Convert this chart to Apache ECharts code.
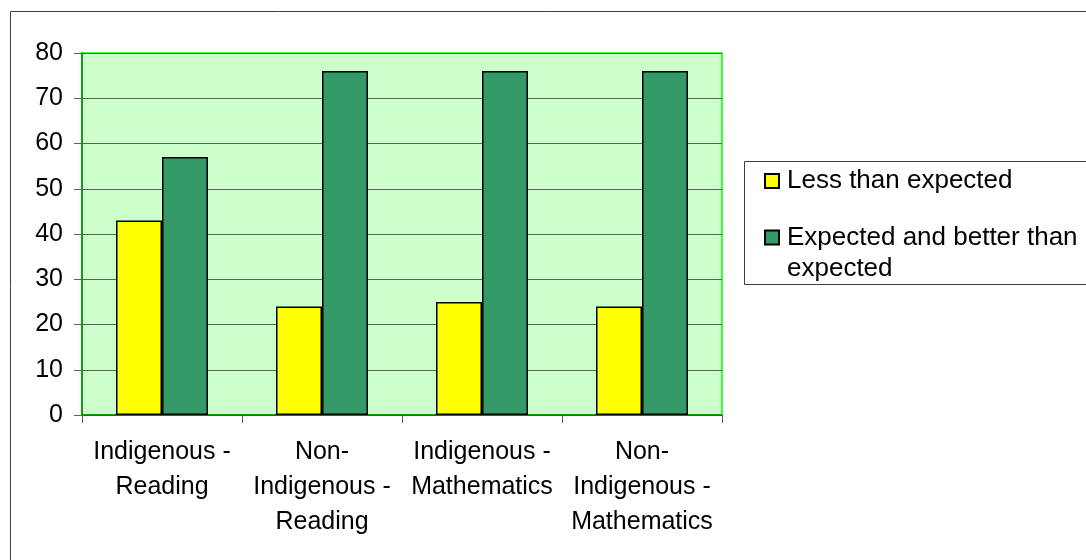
<!DOCTYPE html>
<html>
<head>
<meta charset="utf-8">
<script src="https://cdn.jsdelivr.net/npm/echarts@6/dist/echarts.min.js"></script>
<style>
html,body{margin:0;padding:0;background:#fff;}
#chart{width:1086px;height:560px;}
</style>
</head>
<body>
<div id="chart"></div>
<script>
const categories = ["Indigenous -\nReading", "Non-\nIndigenous -\nReading", "Indigenous -\nMathematics", "Non-\nIndigenous -\nMathematics"];
const lessThanExpected = [43, 24, 25, 24];
const expectedOrBetter = [57, 76, 76, 76];
const seriesNames = ["Less than expected", "Expected and better than expected"];
const yTicks = {min: 0, max: 80, interval: 10};

const FONT = '"Liberation Sans", Arial, sans-serif';
const legendText = {fontFamily: FONT, fontSize: 26, color: '#000', lineHeight: 31, padding: [0, 0, 0, 3]};
const chart = echarts.init(document.getElementById('chart'), null, {renderer: 'canvas'});
chart.setOption({
  animation: false,
  backgroundColor: '#ffffff',
  textStyle: {fontFamily: FONT},
  graphic: [
    {type: 'rect', shape: {x: 10.5, y: 11.5, width: 1100, height: 600}, style: {fill: 'none', stroke: '#404040', lineWidth: 1}, z: -10},
    {type: 'rect', shape: {x: 744.5, y: 161.5, width: 360, height: 123}, style: {fill: '#fff', stroke: '#404040', lineWidth: 1}, z: -5}
  ],
  grid: {left: 82, top: 53, right: 364, bottom: 145, show: true, backgroundColor: '#CCFFCC', borderColor: '#00FF00', borderWidth: 1.5},
  legend: [
    {
      orient: 'vertical', left: 759, top: 160.5, itemWidth: 14, itemHeight: 14, itemGap: 5,
      icon: 'rect', textStyle: legendText, data: [seriesNames[0]]
    },
    {
      orient: 'vertical', left: 759, top: 186, itemWidth: 14, itemHeight: 14, itemGap: 5,
      icon: 'rect', textStyle: legendText, data: [seriesNames[1]],
      formatter: function () { return ' \nExpected and better than\nexpected'; }
    }
  ],
  xAxis: {
    type: 'category', data: categories,
    axisLine: {lineStyle: {color: '#008000', width: 1.5}},
    axisTick: {show: true, length: 8, lineStyle: {color: '#606060'}},
    axisLabel: {fontFamily: FONT, fontSize: 25, color: '#000', lineHeight: 35, margin: 20, interval: 0}
  },
  yAxis: {
    type: 'value', min: yTicks.min, max: yTicks.max, interval: yTicks.interval,
    axisLine: {show: true, lineStyle: {color: '#008000', width: 1.5}},
    axisTick: {show: true, length: 8, lineStyle: {color: '#606060'}},
    axisLabel: {fontFamily: FONT, fontSize: 25, color: '#000', margin: 19},
    splitLine: {show: true, lineStyle: {color: '#55655a', width: 1}}
  },
  series: [
    {name: seriesNames[0], type: 'bar', data: lessThanExpected, barGap: '0%', barCategoryGap: '42.5%',
     itemStyle: {color: '#FFFF00', borderColor: '#000', borderWidth: 1.5}},
    {name: seriesNames[1], type: 'bar', data: expectedOrBetter, barGap: '0%', barCategoryGap: '42.5%',
     itemStyle: {color: '#339966', borderColor: '#000', borderWidth: 1.5}}
  ]
});
</script>
</body>
</html>
